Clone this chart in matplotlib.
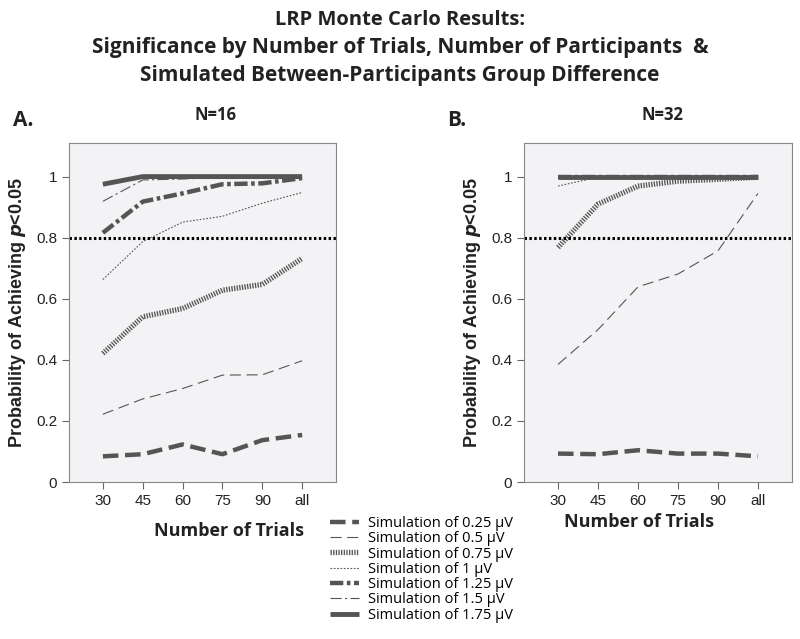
import matplotlib.pyplot as plt

trials = ['30', '45', '60', '75', '90', 'all']
sims = ['0.25', '0.5', '0.75', '1', '1.25', '1.5', '1.75']

# N=16
n16 = {
    '0.25': [0.084, 0.091, 0.123, 0.091, 0.137, 0.154],
    '0.5': [0.222, 0.272, 0.306, 0.350, 0.351, 0.397],
    '0.75': [0.421, 0.541, 0.568, 0.628, 0.647, 0.732],
    '1': [0.663, 0.787, 0.851, 0.870, 0.913, 0.948],
    '1.25': [0.816, 0.918, 0.945, 0.975, 0.978, 0.995],
    '1.5': [0.919, 0.989, 0.992, 0.998, 0.998, 0.997],
    '1.75': [0.975, 1.0, 1.0, 1.0, 1.0, 1.0],
}
# N=32
n32 = {
    '0.25': [0.093, 0.091, 0.104, 0.093, 0.093, 0.084],
    '0.5': [0.385, 0.499, 0.639, 0.681, 0.757, 0.945],
    '0.75': [0.768, 0.910, 0.969, 0.985, 0.991, 0.998],
    '1': [0.969, 0.998, 1.0, 1.0, 1.0, 1.0],
    '1.25': [1.0, 1.0, 1.0, 1.0, 1.0, 1.0],
    '1.5': [1.0, 1.0, 1.0, 1.0, 1.0, 1.0],
    '1.75': [1.0, 1.0, 1.0, 1.0, 1.0, 1.0],
}

styles = {
    '0.25': dict(lw=3.2, ls=(0, (3.5, 1.5))),
    '0.5': dict(lw=0.8, ls=(0, (10, 5))),
    '0.75': dict(lw=3.8, ls=(0, (0.25, 0.25))),
    '1': dict(lw=0.8, ls=(0, (1.5, 1.5))),
    '1.25': dict(lw=3.2, ls=(0, (3, 0.8, 0.8, 0.8))),
    '1.5': dict(lw=0.8, ls=(0, (10, 3, 2, 3))),
    '1.75': dict(lw=3.5, ls='-'),
}

line_col = '#555555'
plt.rcParams['font.family'] = ['Liberation Sans', 'DejaVu Sans']

fig = plt.figure(figsize=(8, 6.39), dpi=100)

def panel(rect, data):
    ax = fig.add_axes(rect)
    ax.set_facecolor('#f3f3f5')
    x = list(range(len(trials)))
    for s in sims:
        ax.plot(x, data[s], color=line_col, solid_capstyle='butt',
                dash_capstyle='butt', **styles[s])
    ax.axhline(0.8, color='black', lw=2.2, ls=(0, (0.8, 0.8)))
    ax.set_xlim(-0.85, 5.85)
    ax.set_ylim(0, 1.11)
    ax.set_xticks(x)
    ax.set_xticklabels(trials)
    ax.set_yticks([0, 0.2, 0.4, 0.6, 0.8, 1])
    ax.set_yticklabels(['0', '0.2', '0.4', '0.6', '0.8', '1'])
    for sp in ax.spines.values():
        sp.set_color('#888888')
    ax.tick_params(colors='#666666', labelcolor='#222222', labelsize=11, length=5)
    ax.set_ylabel('Probability of Achieving $\\mathbfit{p}$<0.05', fontsize=13,
                  fontweight='bold', color='#222222', labelpad=6)
    return ax

axA = panel([69 / 800, 157 / 639, 267 / 800, 339 / 639], n16)
axB = panel([524 / 800, 157 / 639, 268 / 800, 339 / 639], n32)

tf = dict(family='Open Sans', fontweight='bold', color='#222222')
fig.text(0.5, 1 - 20 / 639, 'LRP Monte Carlo Results:', ha='center', va='center', fontsize=14.5, **tf)
fig.text(0.5, 1 - 48 / 639, 'Significance by Number of Trials, Number of Participants  &',
         ha='center', va='center', fontsize=15, **tf)
fig.text(0.5, 1 - 76 / 639, 'Simulated Between-Participants Group Difference',
         ha='center', va='center', fontsize=15, **tf)
fig.text(23 / 800, 1 - 121 / 639, 'A.', ha='center', va='center', fontsize=15, **tf)
fig.text(457 / 800, 1 - 121 / 639, 'B.', ha='center', va='center', fontsize=15, **tf)
fig.text(216 / 800, 1 - 115 / 639, 'N=16', ha='center', va='center', fontsize=12, **tf)
fig.text(662 / 800, 1 - 115 / 639, 'N=32', ha='center', va='center', fontsize=12, **tf)
fig.text(229 / 800, 1 - 531 / 639, 'Number of Trials', ha='center', va='center', fontsize=13, **tf)
fig.text(639 / 800, 1 - 522 / 639, 'Number of Trials', ha='center', va='center', fontsize=13, **tf)

handles = []
for s in sims:
    h, = axA.plot([], [], color=line_col, solid_capstyle='butt', **styles[s])
    handles.append(h)
labels = ['Simulation of %s \u03bcV' % s for s in sims]
fig.legend(handles, labels, loc='upper left', bbox_to_anchor=(330 / 800, 1 - 516 / 639),
           frameon=False, handlelength=2.0, handletextpad=0.6, labelspacing=0.02,
           prop=dict(family='Open Sans', size=10.5), borderaxespad=0, borderpad=0)

fig.savefig('out.png', dpi=100)
